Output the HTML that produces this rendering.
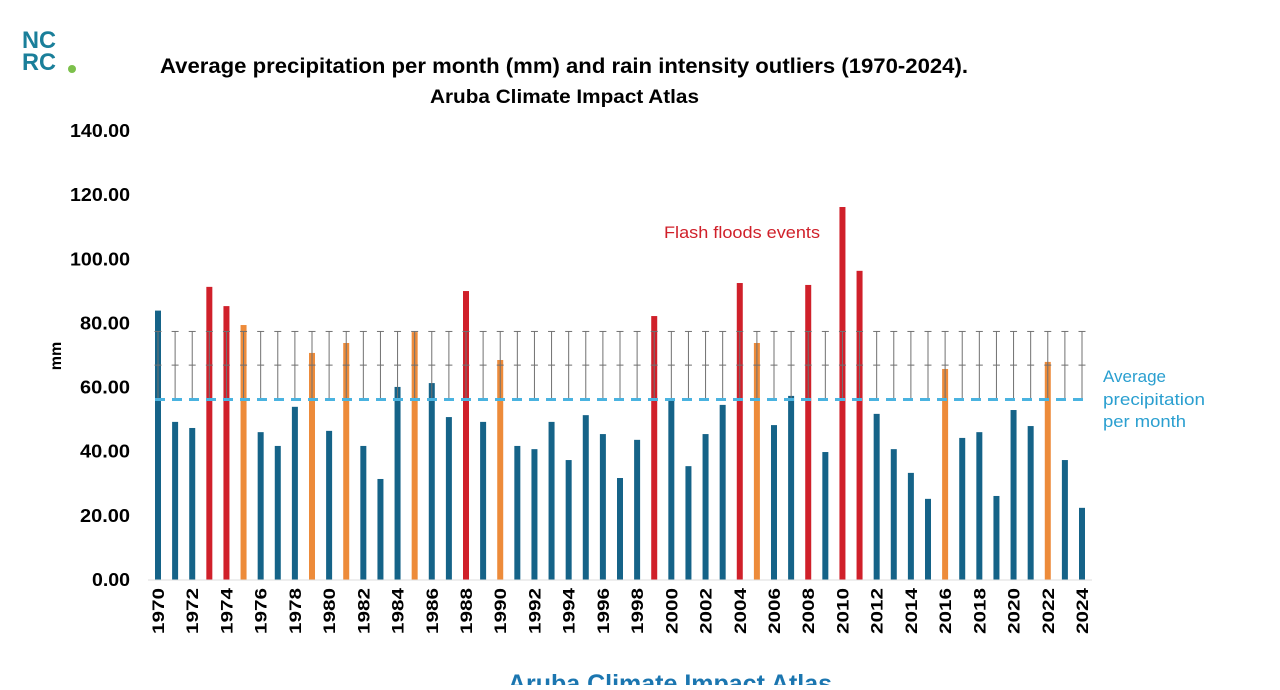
<!DOCTYPE html>
<html><head><meta charset="utf-8"><style>
body{margin:0;background:#fff;width:1280px;height:685px;overflow:hidden;font-family:"Liberation Sans",sans-serif}
</style></head><body>
<svg id="chart" width="1280" height="685" xmlns="http://www.w3.org/2000/svg" font-family="Liberation Sans, sans-serif">
<g font-weight="bold" fill="#1a7f9a" font-size="24">
<text x="22" y="48" textLength="34" lengthAdjust="spacingAndGlyphs">NC</text><text x="22" y="70" textLength="34" lengthAdjust="spacingAndGlyphs">RC</text>
<circle cx="72" cy="69" r="4" fill="#7cc04b"/>
</g>
<text x="160" y="73" textLength="808" lengthAdjust="spacingAndGlyphs" font-size="21" font-weight="bold" fill="#000">Average precipitation per month (mm) and rain intensity outliers (1970-2024).</text>
<text x="430" y="103" textLength="269" lengthAdjust="spacingAndGlyphs" font-size="19" font-weight="bold" fill="#000">Aruba Climate Impact Atlas</text>
<text transform="translate(61,356) rotate(-90)" text-anchor="middle" font-size="16" font-weight="bold">mm</text>
<g id="yticks"></g><g id="bars"></g><g id="errs"></g><g id="xticks"></g>
<line x1="148" y1="580" x2="1092" y2="580" stroke="#ddd" stroke-width="1"/>
<text x="664" y="238" textLength="156" lengthAdjust="spacingAndGlyphs" font-size="17" fill="#d0202a">Flash floods events</text>
<g font-size="17" fill="#2a9fd0">
<text x="1103" y="382" textLength="63" lengthAdjust="spacingAndGlyphs">Average</text><text x="1103" y="405" textLength="102" lengthAdjust="spacingAndGlyphs">precipitation</text><text x="1103" y="427" textLength="83" lengthAdjust="spacingAndGlyphs">per month</text></g>
<text x="670" y="692" text-anchor="middle" font-size="25" font-weight="bold" fill="#1b76b0">Aruba Climate Impact Atlas</text>
</svg>
<script>
const years=[];for(let y=1970;y<=2024;y++)years.push(y);
const values=[84,49.3,47.4,91.4,85.4,79.5,46.1,41.8,54,70.8,46.5,73.9,41.8,31.5,60.2,77.3,61.4,50.8,90.1,49.3,68.6,41.8,40.8,49.3,37.4,51.4,45.5,31.8,43.7,82.3,56.1,35.5,45.5,54.6,92.6,73.9,48.3,57.4,92,39.9,116.3,96.4,51.8,40.8,33.4,25.3,65.8,44.3,46.1,26.2,53,48,68,37.4,22.5];
const categories=["normal","normal","normal","flood","flood","outlier","normal","normal","normal","outlier","normal","outlier","normal","normal","normal","outlier","normal","normal","flood","normal","outlier","normal","normal","normal","normal","normal","normal","normal","normal","flood","normal","normal","normal","normal","flood","outlier","normal","normal","flood","normal","flood","flood","normal","normal","normal","normal","outlier","normal","normal","normal","normal","normal","outlier","normal","normal"];
const yTicks=[0,20,40,60,80,100,120,140];
const average=[56.3];
const errorRange=[56.3,67,77.5];
const NS="http://www.w3.org/2000/svg";
const Y=v=>580-v*449/140, X=i=>158+i*(1082-158)/54;
const colors={normal:"#156388",flood:"#d0202a",outlier:"#ed8b3a"};
function mk(t,a,p){const e=document.createElementNS(NS,t);for(const k in a)e.setAttribute(k,a[k]);p.appendChild(e);return e;}
const yt=document.getElementById('yticks');
yTicks.forEach(v=>{const s=v.toFixed(2);const t=mk('text',{x:130,y:Y(v)+6,'text-anchor':'end','font-size':18,'font-weight':'bold',textLength:s.length===6?60:(s.length===5?50:38),lengthAdjust:'spacingAndGlyphs'},yt);t.textContent=s;

});
const bg=document.getElementById('bars'),eg=document.getElementById('errs'),xg=document.getElementById('xticks');
values.forEach((v,i)=>{const x=X(i);
const r=mk('rect',{x:x-3,y:Y(v),width:6,height:Y(0)-Y(v),fill:colors[categories[i]]},bg);


const g=mk('g',{stroke:'#707070','stroke-width':1},eg);


mk('line',{x1:x,x2:x,y1:Y(errorRange[0]),y2:Y(errorRange[2])},g);
errorRange.slice(1).forEach(e=>mk('line',{x1:x-3.5,x2:x+3.5,y1:Y(e),y2:Y(e)},g));
if(i%2===0){const t=mk('text',{transform:`translate(${x+6},${588}) rotate(-90)`,'text-anchor':'end','font-size':17,'font-weight':'bold',textLength:46,lengthAdjust:'spacingAndGlyphs'},xg);t.textContent=years[i];

}
});
const l=mk('line',{x1:155,x2:1086,y1:Y(average[0]),y2:Y(average[0]),stroke:'#4ab3e0','stroke-width':3,'stroke-dasharray':'10 7'},document.getElementById('chart'));


</script>
</body></html>
